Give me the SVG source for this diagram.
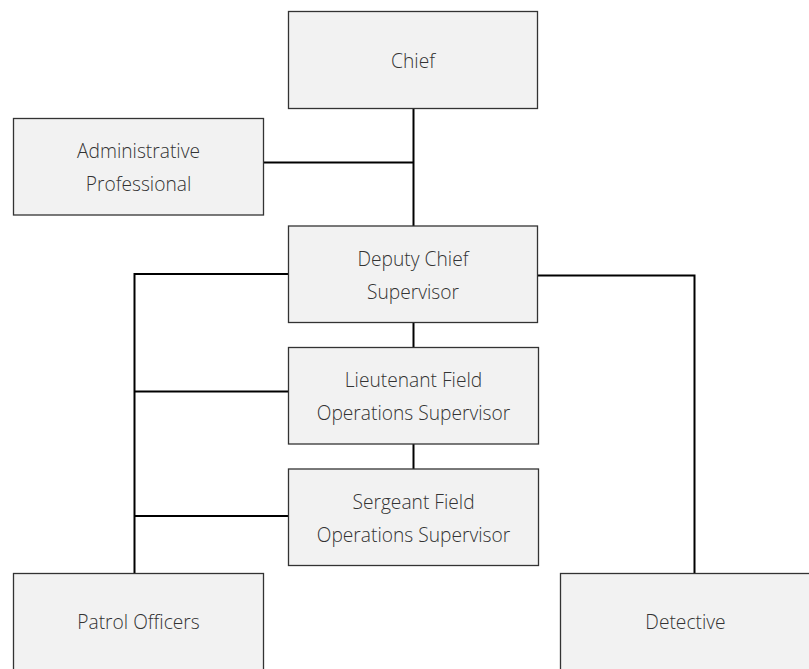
<svg xmlns="http://www.w3.org/2000/svg" width="809" height="669" viewBox="0 0 809 669">
<style>
.box{fill:#f2f2f2;stroke:#333;stroke-width:1.3}
.lbl{font-family:"Open Sans","Segoe UI",sans-serif;font-weight:300;font-size:19.2px;fill:#333;text-anchor:middle;dominant-baseline:central}
.con{fill:none;stroke:#000;stroke-width:2}
</style>
<rect width="809" height="669" fill="#fff"/>
<g id="connectors">
<path class="con" d="M413.5 108.5V226"/>
<path class="con" d="M263.5 162.5H413.5"/>
<path class="con" d="M288.5 274H134.5V573"/>
<path class="con" d="M537.5 275.5H694.5V573"/>
<path class="con" d="M413.5 322.5V347.5"/>
<path class="con" d="M413.5 444V469"/>
<path class="con" d="M134.5 391.5H288.5"/>
<path class="con" d="M134.5 516H288.5"/>
</g>
<g id="chief"><rect class="box" x="288.5" y="11.5" width="249" height="97"/><text class="lbl" x="413" y="60">Chief</text></g>
<g id="admin"><rect class="box" x="13.5" y="118.5" width="250" height="96.5"/><text class="lbl" x="138.5" y="150">Administrative</text><text class="lbl" x="138.5" y="183">Professional</text></g>
<g id="deputy"><rect class="box" x="288.5" y="226" width="249" height="96.5"/><text class="lbl" x="413" y="258">Deputy Chief</text><text class="lbl" x="413" y="291">Supervisor</text></g>
<g id="lieutenant"><rect class="box" x="288.5" y="347.5" width="250" height="96.5"/><text class="lbl" x="413.5" y="379">Lieutenant Field</text><text class="lbl" x="413.5" y="412">Operations Supervisor</text></g>
<g id="sergeant"><rect class="box" x="288.5" y="469" width="250" height="96.5"/><text class="lbl" x="413.5" y="501">Sergeant Field</text><text class="lbl" x="413.5" y="534">Operations Supervisor</text></g>
<g id="patrol"><rect class="box" x="13.5" y="573.5" width="250" height="110"/><text class="lbl" x="138.5" y="621">Patrol Officers</text></g>
<g id="detective"><rect class="box" x="560.5" y="573.5" width="250" height="110"/><text class="lbl" x="685.5" y="621">Detective</text></g>
</svg>
